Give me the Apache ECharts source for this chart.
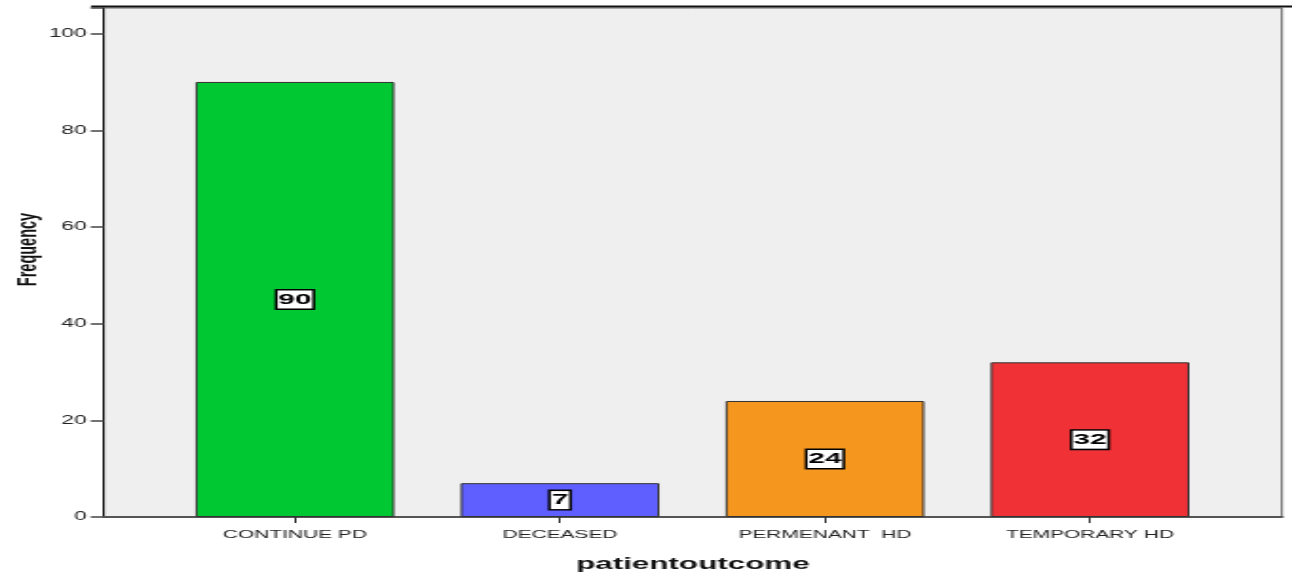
<!DOCTYPE html>
<html>
<head>
<meta charset="utf-8">
<title>patientoutcome</title>
<script src="https://cdn.jsdelivr.net/npm/echarts@6/dist/echarts.min.js"></script>
<style>
  html, body { margin: 0; padding: 0; background: #ffffff; overflow: hidden; }
  #wrap { width: 1292px; height: 575px; overflow: hidden; }
  /* the chart is laid out on a narrow canvas and stretched sideways */
  #chart { width: 680px; height: 575px; transform: scaleX(1.9); transform-origin: 0 0; }
</style>
</head>
<body>
<div id="wrap"><div id="chart"></div></div>
<script>
// Patient outcome counts
const categories = ['CONTINUE PD', 'DECEASED', 'PERMENANT  HD', 'TEMPORARY HD'];
const frequencies = [90, 7, 24, 32];
const barColors = ['#00c832', '#5f5fff', '#f5961e', '#f03237'];
const yTicks = [0, 20, 40, 60, 80, 100];

const Y_MAX = 105.3;
const FONT = '"Liberation Sans", Arial, sans-serif';

const chart = echarts.init(document.getElementById('chart'), null, { renderer: 'canvas' });

const barData = frequencies.map((v, i) => ({
  value: v,
  itemStyle: { color: barColors[i] }
}));

chart.setOption({
  animation: false,
  grid: [
    // framed plot area carrying the value axis
    { left: 54.7, right: 5.3, top: 8, bottom: 58, show: true, outerBoundsMode: 'none',
      backgroundColor: '#efefef', borderColor: '#666666', borderWidth: 1 },
    // inner band where the category bars sit
    { left: 85.5, width: 557.9, top: 8, bottom: 58, outerBoundsMode: 'none' }
  ],
  xAxis: [
    {
      gridIndex: 0, type: 'value', min: 0, max: 1,
      axisLine: { show: true, lineStyle: { color: '#555555', width: 2 } },
      axisTick: { show: false }, axisLabel: { show: false }, splitLine: { show: false },
      name: 'patientoutcome', nameLocation: 'middle', nameGap: 39,
      nameTextStyle: { fontFamily: FONT, fontWeight: 'bold', fontSize: 16.5, color: '#111111' }
    },
    {
      gridIndex: 1, type: 'category', data: categories,
      axisLine: { show: false },
      axisTick: { show: true, alignWithLabel: true, length: 6, lineStyle: { color: '#333333', width: 1 } },
      axisLabel: { margin: 12, fontFamily: FONT, fontSize: 11, color: '#222222' },
      splitLine: { show: false }
    }
  ],
  yAxis: [
    {
      gridIndex: 0, type: 'value', min: 0, max: Y_MAX, interval: 20,
      axisLine: { show: true, lineStyle: { color: '#111111', width: 1 } },
      axisTick: { show: true, length: 7, lineStyle: { color: '#444444', width: 1.5 } },
      axisLabel: {
        margin: 9, fontFamily: FONT, fontSize: 12, color: '#222222',
        formatter: v => (yTicks.indexOf(v) >= 0 ? String(v) : '')
      },
      splitLine: { show: false },
      name: 'Frequency', nameLocation: 'middle', nameGap: 32.5, nameRotate: 90,
      nameMoveOverlap: false,
      nameTextStyle: { fontFamily: FONT, fontWeight: 'bold', fontSize: 14.5, color: '#111111',
        padding: [0, 0, 0, 26] }
    },
    {
      gridIndex: 1, type: 'value', min: 0, max: Y_MAX, show: false
    }
  ],
  series: [{
    type: 'bar',
    xAxisIndex: 1, yAxisIndex: 1,
    data: barData,
    barWidth: '75%',
    itemStyle: { borderColor: '#333333', borderWidth: 1 },
    label: {
      show: true, position: 'inside',
      fontFamily: FONT, fontWeight: 'bold', fontSize: 15.5, lineHeight: 18,
      color: '#000000', backgroundColor: '#ffffff',
      borderColor: '#000000', borderWidth: 1.5, padding: [0, 0.5, 0, 0.5]
    }
  }],
  graphic: [{
    type: 'line',
    shape: { x1: 47.9, y1: 6.5, x2: 680, y2: 6.5 },
    style: { stroke: '#111111', lineWidth: 2 },
    silent: true
  }]
});
</script>
</body>
</html>
